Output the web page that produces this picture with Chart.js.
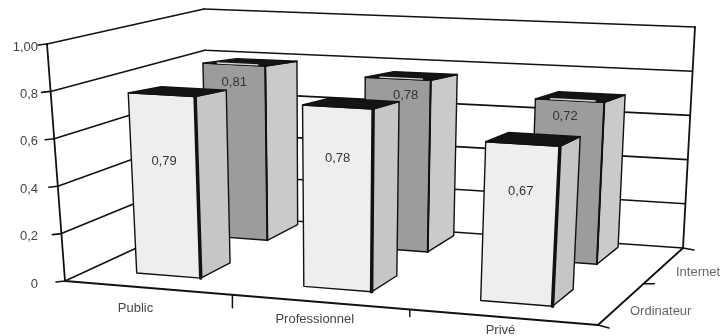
<!DOCTYPE html>
<html>
<head>
<meta charset="utf-8">
<title>Bar chart</title>
<script src="https://cdn.jsdelivr.net/npm/chart.js@4"></script>
<style>
  html, body { margin: 0; padding: 0; background: #fff; }
  #wrap { width: 722px; height: 336px; }
</style>
</head>
<body>
<div id="wrap"><canvas id="chart" width="722" height="336"></canvas></div>
<script>
const categories = ['Public', 'Professionnel', 'Privé'];
const internetValues = [0.81, 0.78, 0.72];
const ordinateurValues = [0.79, 0.78, 0.67];
const valueTicks = ['0', '0,2', '0,4', '0,6', '0,8', '1,00'];

// perspective frame: floor quad and the lift of each corner at full height
// (front-left, front-right, back-right, back-left)
const floorQuad = [[65, 281], [598, 325], [683, 248], [208, 215]];
const cornerLift = [[-18, -237], [15, -250], [12, -221], [-4, -206]];

// label nudges for the category names under the front edge
const categoryNudgeX = [-12, -5, -2];
const categoryNudgeY = [21, 17, 13];

// solves the unit square -> quad homography
function makeHomography(q) {
    const [p0, p1, p2, p3] = q;
    const dx1 = p1[0] - p2[0], dx2 = p3[0] - p2[0], sx = p0[0] - p1[0] + p2[0] - p3[0];
    const dy1 = p1[1] - p2[1], dy2 = p3[1] - p2[1], sy = p0[1] - p1[1] + p2[1] - p3[1];
    const det = dx1 * dy2 - dx2 * dy1;
    const g = (sx * dy2 - dx2 * sy) / det;
    const h = (dx1 * sy - sx * dy1) / det;
    const a = p1[0] - p0[0] + g * p1[0], b = p3[0] - p0[0] + h * p3[0], c = p0[0];
    const d = p1[1] - p0[1] + g * p1[1], e = p3[1] - p0[1] + h * p3[1], f = p0[1];
    return (u, v) => {
        const w = g * u + h * v + 1;
        return [(a * u + b * v + c) / w, (d * u + e * v + f) / w];
    };
}
const floorAt = makeHomography(floorQuad);

// u along the categories, v into the depth, t up the value axis (all 0..1)
function project(u, v, t) {
    const p = floorAt(u, v);
    // height shrinks quickly near the viewer, then levels off towards the back wall
    const w = Math.pow(v, 0.6);
    const lift = k => (1 - w) * ((1 - u) * cornerLift[0][k] + u * cornerLift[1][k])
        + w * ((1 - u) * cornerLift[3][k] + u * cornerLift[2][k]);
    return [p[0] + lift(0) * t, p[1] + lift(1) * t];
}

function poly(ctx, pts, fill, stroke, lw) {
    ctx.beginPath();
    pts.forEach((p, i) => i ? ctx.lineTo(p[0], p[1]) : ctx.moveTo(p[0], p[1]));
    ctx.closePath();
    if (fill) { ctx.fillStyle = fill; ctx.fill(); }
    if (stroke) { ctx.strokeStyle = stroke; ctx.lineWidth = lw; ctx.lineJoin = 'round'; ctx.stroke(); }
}

function seg(ctx, a, b, lw, color) {
    ctx.beginPath();
    ctx.moveTo(a[0], a[1]);
    ctx.lineTo(b[0], b[1]);
    ctx.strokeStyle = color || '#111';
    ctx.lineWidth = lw;
    ctx.stroke();
}

const perspectivePlugin = {
    id: 'perspective',
    beforeDatasetsDraw(chart) {
        const ctx = chart.ctx;
        const area = chart.chartArea;
        const yScale = chart.scales.y;
        const xScale = chart.scales.x;
        const toT = y => (area.bottom - y) / area.height;
        const toU = x => (x - area.left) / area.width;

        ctx.save();
        ctx.font = '13px "Liberation Sans", Arial, sans-serif';
        ctx.lineCap = 'round';

        // walls and gridlines, one per tick of the value scale
        yScale.ticks.forEach((tick, i) => {
            const t = toT(yScale.getPixelForValue(tick.value));
            const a = project(0, 0, t), b = project(0, 1, t), c = project(1, 1, t);
            seg(ctx, a, b, 1.6);
            seg(ctx, b, c, 1.6);
            seg(ctx, [a[0] - 9, a[1] + 1], a, 1.6);
            ctx.fillStyle = '#444';
            ctx.textAlign = 'right';
            ctx.textBaseline = 'middle';
            ctx.fillText(valueTicks[i], area.left - 27, a[1] + 3);
        });
        seg(ctx, project(0, 0, 1), project(0, 0, 0), 1.8);
        seg(ctx, project(1, 1, 1), project(1, 1, 0), 1.8);
        seg(ctx, project(0, 0, 0), project(1, 0, 0), 1.8);
        seg(ctx, project(1, 0, 0), project(1, 1, 0), 1.8);

        // category ticks and labels along the front edge
        categories.forEach((name, i) => {
            const u = toU(xScale.getPixelForValue(i));
            const edge = project((i + 1) / categories.length, 0, 0);
            if (i < categories.length - 1) seg(ctx, edge, [edge[0], edge[1] + 13 - i * 6], 1.5);
            const p = project(u, 0, 0);
            ctx.fillStyle = '#444';
            ctx.textAlign = 'center';
            ctx.textBaseline = 'middle';
            ctx.fillText(name, p[0] + categoryNudgeX[i], p[1] + categoryNudgeY[i]);
        });

        // depth ticks and series labels along the right edge
        const front = project(1, 0, 0), mid = project(1, 0.5, 0), back = project(1, 1, 0);
        seg(ctx, front, [front[0] + 11, front[1] + 3], 1.5);
        seg(ctx, mid, [mid[0] + 11, mid[1]], 1.5);
        seg(ctx, back, [back[0] + 11, back[1] + 2], 1.5);
        ctx.fillStyle = '#666';
        ctx.textAlign = 'left';
        ctx.textBaseline = 'middle';
        ctx.fillText(chart.data.datasets[1].label, 630, 311);
        ctx.fillText(chart.data.datasets[0].label, 676, 272);

        // boxes, back row first
        chart.data.datasets.forEach((ds, di) => {
            chart.getDatasetMeta(di).data.forEach((bar, i) => {
                const u0 = toU(bar.x - bar.width / 2) + ds.shiftU;
                const u1 = toU(bar.x + bar.width / 2) + ds.shiftU;
                const [v0, v1] = ds.depthBand;
                const t = toT(bar.y);
                const tb = t * ds.backRise;
                const fl = project(u0, v0, 0), fr = project(u1, v0, 0), br = project(u1, v1, 0);
                const tl = project(u0, v0, t), tr = project(u1, v0, t), trb = project(u1, v1, tb), tlb = project(u0, v1, tb);

                poly(ctx, [fr, br, trb, tr], ds.sideColor, '#111', 1.4);
                poly(ctx, [fl, fr, tr, tl], ds.faceColor, '#111', 1.4);
                poly(ctx, [tl, tr, trb, tlb], '#141414', '#111', 1.4);
                seg(ctx, tr, fr, ds.edgeWidth);

                // pale sheen along the front of the darker boxes' lids
                if (ds.sheen) {
                    const s0 = project(u0 + (u1 - u0) * 0.2, v0 + 0.015, t);
                    const s1 = project(u0 + (u1 - u0) * 0.85, v0 + 0.015, t);
                    seg(ctx, s0, s1, 1.4, '#d8d8d8');
                }

                const lab = project((u0 + u1) / 2, v0, t * ds.labelAt[i]);
                ctx.fillStyle = '#333';
                ctx.textAlign = 'center';
                ctx.textBaseline = 'middle';
                ctx.fillText(ds.data[i].toFixed(2).replace('.', ','), lab[0] + ds.labelNudge[i], lab[1]);
            });
        });
        ctx.restore();
    }
};

new Chart(document.getElementById('chart'), {
    type: 'bar',
    data: {
        labels: categories,
        datasets: [
            {
                label: 'Internet', data: internetValues, grouped: false,
                barPercentage: 0.39, categoryPercentage: 1,
                backgroundColor: 'transparent',
                faceColor: '#9c9c9c', sideColor: '#cacaca', sheen: true,
                depthBand: [0.7, 0.95], backRise: 0.96, shiftU: -0.018, edgeWidth: 2,
                labelAt: [0.9, 0.9, 0.9], labelNudge: [0, 8, -4]
            },
            {
                label: 'Ordinateur', data: ordinateurValues, grouped: false,
                barPercentage: 0.39, categoryPercentage: 1,
                backgroundColor: 'transparent',
                faceColor: '#eeeeee', sideColor: '#c6c6c6', sheen: false,
                depthBand: [0.16, 0.37], backRise: 0.98, shiftU: -0.006, edgeWidth: 3.5,
                labelAt: [0.63, 0.72, 0.7], labelNudge: [0, 0, 0]
            }
        ]
    },
    options: {
        responsive: false,
        animation: false,
        layout: { padding: { left: 65, right: 124, top: 44, bottom: 55 } },
        plugins: { legend: { display: false }, tooltip: { enabled: false } },
        scales: {
            x: { display: false },
            y: { display: false, min: 0, max: 1, ticks: { stepSize: 0.2 } }
        }
    },
    plugins: [perspectivePlugin]
});
</script>
</body>
</html>
